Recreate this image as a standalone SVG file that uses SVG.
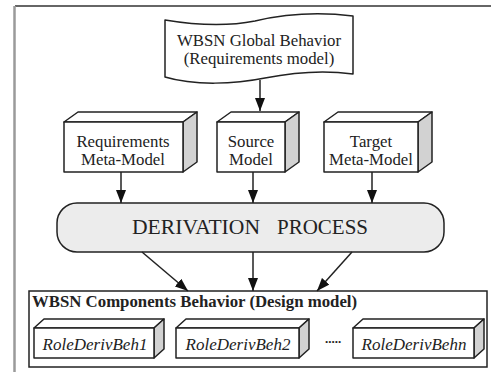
<svg xmlns="http://www.w3.org/2000/svg" width="491" height="372" viewBox="0 0 491 372">
  <style>
    .ln { stroke: #222; stroke-width: 1.5; fill: none; }
    .face { fill: #fff; stroke: #222; stroke-width: 1.5; stroke-linejoin: round; }
    .side { fill: #d2d2d2; stroke: #222; stroke-width: 1.5; stroke-linejoin: round; }
    text { font-family: "Liberation Serif", "DejaVu Serif", serif; fill: #222; }
    .t { font-size: 16.8px; text-anchor: middle; }
    .ti { font-size: 17px; font-style: italic; text-anchor: middle; }
    .tb { font-size: 16.8px; font-weight: bold; }
  </style>
  <defs>
    <marker id="arrow" markerUnits="userSpaceOnUse" markerWidth="13" markerHeight="10" refX="13" refY="5" orient="auto">
      <path d="M0,0 L13,5 L0,10 Z" fill="#111"/>
    </marker>
  </defs>

  <rect width="491" height="372" fill="#fff"/>

  <!-- page frame -->
  <line x1="15" y1="6" x2="491" y2="6" stroke="#333" stroke-width="1.3"/>
  <line x1="14.5" y1="6" x2="14.5" y2="372" stroke="#9a9a9a" stroke-width="2.5"/>

  <!-- requirements document -->
  <g id="global-behavior">
    <path class="face" d="M165,20 C195,25 225,27 255,21 C285,14 320,12 353,16 L353,74 C325,70 295,72 265,78 C235,84 195,86 165,77 Z"/>
    <text class="t" x="259" y="46">WBSN Global Behavior</text>
    <text class="t" x="259" y="64">(Requirements model)</text>
  </g>

  <g id="req-metamodel">
    <polygon class="face" points="64,122 78,112 197,112 183,122"/>
    <polygon class="side" points="183,122 197,112 197,162 183,172"/>
    <rect class="face" x="64" y="122" width="119" height="50"/>
    <text class="t" x="123" y="147">Requirements</text>
    <text class="t" x="123" y="165">Meta-Model</text>
  </g>

  <g id="source-model">
    <polygon class="face" points="217,122 231,112 299,112 285,122"/>
    <polygon class="side" points="285,122 299,112 299,162 285,172"/>
    <rect class="face" x="217" y="122" width="68" height="50"/>
    <text class="t" x="251" y="147">Source</text>
    <text class="t" x="251" y="165">Model</text>
  </g>

  <g id="target-metamodel">
    <polygon class="face" points="324,122 338,112 432,112 418,122"/>
    <polygon class="side" points="418,122 432,112 432,162 418,172"/>
    <rect class="face" x="324" y="122" width="94" height="50"/>
    <text class="t" x="371" y="147">Target</text>
    <text class="t" x="371" y="165">Meta-Model</text>
  </g>

  <g id="derivation-process">
    <rect x="57" y="203" width="387" height="49" rx="20" ry="20" fill="#ececec" stroke="#222" stroke-width="1.5"/>
    <text font-size="21"><tspan x="132" y="234" textLength="128" lengthAdjust="spacingAndGlyphs">DERIVATION</tspan><tspan x="277" y="234">PROCESS</tspan></text>
  </g>

  <g id="design-model">
    <rect x="29" y="291" width="458" height="76" fill="#fff" stroke="#222" stroke-width="1.5"/>
    <text class="tb" x="32" y="307">WBSN Components Behavior (Design model)</text>

    <g id="role-beh-1">
      <polygon class="face" points="34,328 44,319 164,319 154,328"/>
      <polygon class="side" points="154,328 164,319 164,349 154,358"/>
      <rect class="face" x="34" y="328" width="120" height="30"/>
      <text class="ti" x="95" y="350">RoleDerivBeh1</text>
    </g>
    <g id="role-beh-2">
      <polygon class="face" points="176,328 186,319 309,319 299,328"/>
      <polygon class="side" points="299,328 309,319 309,349 299,358"/>
      <rect class="face" x="176" y="328" width="123" height="30"/>
      <text class="ti" x="238" y="350">RoleDerivBeh2</text>
    </g>
    <text x="333" y="343" font-size="13" font-weight="bold" text-anchor="middle">.....</text>
    <g id="role-beh-n">
      <polygon class="face" points="353,328 363,319 484,319 474,328"/>
      <polygon class="side" points="474,328 484,319 484,349 474,358"/>
      <rect class="face" x="353" y="328" width="121" height="30"/>
      <text class="ti" x="414" y="350">RoleDerivBehn</text>
    </g>
  </g>

  <!-- connectors -->
  <g id="connectors" class="ln" marker-end="url(#arrow)">
    <line x1="260" y1="80" x2="260" y2="111"/>
    <line x1="121" y1="172" x2="121" y2="203"/>
    <line x1="253" y1="172" x2="253" y2="203"/>
    <line x1="372" y1="172" x2="372" y2="203"/>
    <line x1="142" y1="252" x2="188" y2="291"/>
    <line x1="253" y1="252" x2="253" y2="291"/>
    <line x1="352" y1="252" x2="317" y2="291"/>
  </g>
</svg>
